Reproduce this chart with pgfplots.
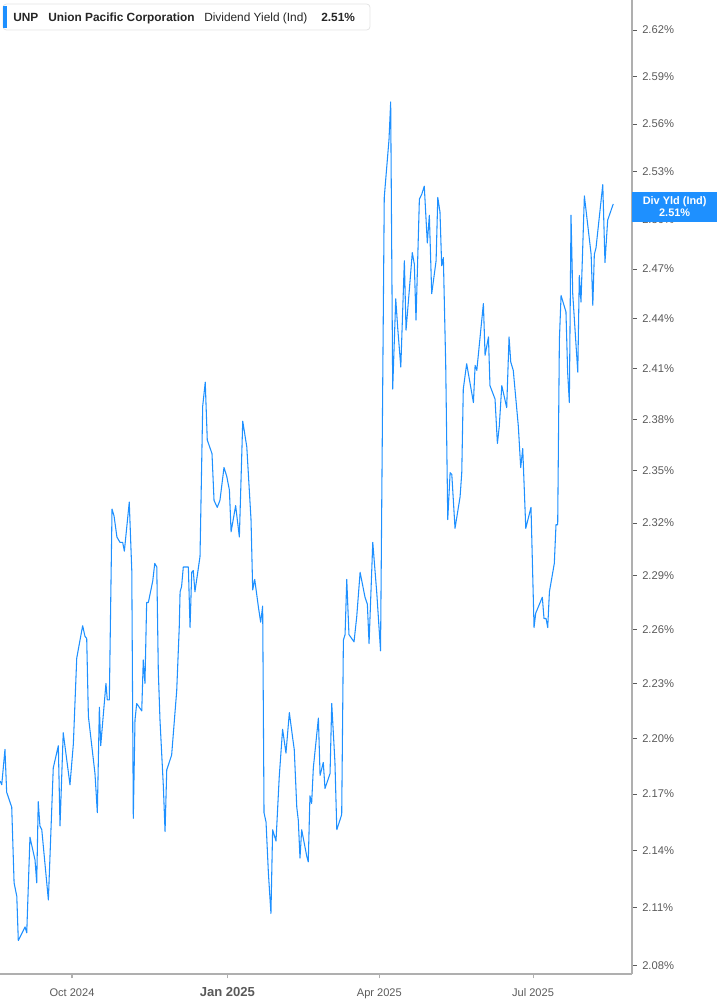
\documentclass[border=0pt]{standalone}
\usepackage{pgfplots}
\pgfplotsset{compat=1.18}
\usepackage{fontspec}
\setmainfont{Liberation Sans}
\usetikzlibrary{calc}

\definecolor{unpblue}{RGB}{30,144,255}
\definecolor{axisgray}{RGB}{175,175,175}
\definecolor{labelgray}{RGB}{90,90,90}

\begin{document}
\begin{tikzpicture}
\begin{axis}[
    name=ax,
    scale only axis,
    width=474pt, height=730.5pt,
    xmin=-42.64, xmax=331.6,
    ymode=log,
    ymin=2.0758, ymax=2.6395,
    axis x line*=bottom,
    axis y line*=right,
    x axis line style={axisgray, line width=1.3pt},
    y axis line style={axisgray, line width=0.9pt},
    tick align=outside,
    major tick length=3.5pt,
    x tick style={axisgray, line width=0.8pt},
    y tick style={labelgray, line width=0.6pt},
    xtick={0,92,182,273},
    xticklabels={Oct 2024,{\fontsize{9.8}{11}\selectfont\bfseries Jan 2025},Apr 2025,Jul 2025},
    xticklabel style={anchor=base, inner sep=0pt, yshift=-13.5pt, text=labelgray,
        font=\fontsize{8.3}{10}\selectfont},
    ytick={2.08,2.11,2.14,2.17,2.20,2.23,2.26,2.29,2.32,2.35,2.38,2.41,2.44,2.47,2.50,2.53,2.56,2.59,2.62},
    yticklabels={2.08\%,2.11\%,2.14\%,2.17\%,2.20\%,2.23\%,2.26\%,2.29\%,2.32\%,2.35\%,2.38\%,2.41\%,2.44\%,2.47\%,2.50\%,2.53\%,2.56\%,2.59\%,2.62\%},
    minor ytick={},
    yticklabel style={anchor=west, inner sep=0pt, xshift=4pt, text=labelgray,
        font=\fontsize{8.4}{10}\selectfont},
    /pgf/number format/assume math mode=true,
]
\addplot[unpblue, line width=0.8pt, line join=round] coordinates {
(-42.6,2.177) (-41.6,2.175) (-39.7,2.194) (-38.7,2.171) (-35.7,2.163)
(-34.3,2.123) (-32.7,2.116) (-31.8,2.093) (-27.8,2.100) (-26.8,2.097)
(-24.9,2.147) (-21.9,2.135) (-20.9,2.123) (-20.0,2.166) (-19.0,2.153)
(-17.9,2.151) (-14.0,2.114) (-11.1,2.184) (-8.1,2.196) (-7.1,2.153)
(-5.2,2.203) (-1.2,2.175) (0.8,2.197) (2.8,2.244) (6.3,2.262)
(7.7,2.256) (8.7,2.255) (9.7,2.212) (13.6,2.181) (15.0,2.160)
(16.2,2.217) (17.0,2.196) (20.1,2.230) (20.9,2.221) (22.1,2.221)
(23.7,2.328) (24.9,2.324) (26.6,2.312) (28.4,2.309) (30.0,2.309)
(31.0,2.304) (33.9,2.332) (35.4,2.293) (36.3,2.157) (37.3,2.210)
(38.3,2.219) (41.3,2.215) (42.2,2.243) (43.2,2.230) (44.2,2.275)
(45.2,2.275) (47.8,2.287) (49.0,2.297) (50.2,2.295) (51.1,2.237)
(52.1,2.210) (54.1,2.174) (55.1,2.150) (56.1,2.183) (59.0,2.191)
(62.0,2.226) (63.5,2.261) (64.0,2.281) (64.9,2.284) (65.9,2.295)
(68.9,2.295) (69.9,2.261) (70.9,2.292) (71.8,2.293) (72.8,2.281)
(75.8,2.301) (77.4,2.388) (78.9,2.402) (80.1,2.368) (82.9,2.360)
(84.1,2.333) (86.0,2.329) (87.6,2.333) (90.0,2.352) (91.6,2.347)
(93.2,2.339) (94.2,2.315) (96.9,2.330) (99.1,2.312) (101.1,2.379)
(103.5,2.364) (106.0,2.322) (107.0,2.282) (108.2,2.288) (110.3,2.273)
(111.7,2.264) (112.9,2.273) (113.7,2.160) (114.9,2.155) (116.3,2.128)
(117.8,2.107) (118.8,2.151) (120.8,2.145) (122.7,2.179) (124.7,2.205)
(126.7,2.192) (128.7,2.214) (130.7,2.200) (131.6,2.194) (133.1,2.163)
(134.0,2.156) (135.0,2.136) (136.0,2.151) (139.0,2.137) (139.9,2.134)
(140.9,2.169) (141.9,2.165) (142.9,2.184) (145.9,2.211) (146.9,2.180)
(148.8,2.187) (149.8,2.173) (152.8,2.181) (153.8,2.219) (155.7,2.187)
(156.8,2.151) (159.7,2.159) (160.7,2.254) (161.7,2.257) (162.7,2.288)
(164.0,2.257) (167.0,2.253) (168.6,2.267) (170.6,2.292) (173.5,2.278)
(174.9,2.274) (175.9,2.252) (178.1,2.309) (180.5,2.280) (182.7,2.248)
(184.9,2.514) (186.3,2.532) (187.7,2.550) (188.7,2.574) (189.9,2.398)
(191.7,2.452) (192.9,2.434) (194.7,2.411) (196.8,2.475) (197.8,2.433)
(199.8,2.458) (201.5,2.480) (202.7,2.473) (203.7,2.439) (205.7,2.513)
(207.1,2.516) (208.6,2.521) (210.4,2.486) (211.6,2.503) (213.0,2.455)
(215.6,2.475) (216.6,2.514) (217.9,2.505) (218.9,2.472) (219.9,2.477)
(221.3,2.412) (222.5,2.322) (223.9,2.349) (224.9,2.348) (226.8,2.317)
(229.8,2.335) (230.8,2.349) (231.7,2.398) (233.7,2.413) (237.7,2.390)
(238.7,2.412) (239.7,2.409) (243.6,2.449) (244.6,2.418) (246.6,2.429)
(247.5,2.400) (250.5,2.392) (251.9,2.366) (253.0,2.376) (254.5,2.400)
(257.4,2.387) (258.8,2.429) (259.8,2.414) (261.3,2.409) (264.3,2.376)
(265.7,2.352) (266.9,2.363) (268.7,2.317) (271.8,2.329) (273.6,2.261)
(274.6,2.269) (278.5,2.278) (279.5,2.266) (280.7,2.266) (281.7,2.261)
(282.7,2.281) (285.6,2.297) (286.6,2.319) (287.6,2.319) (288.6,2.427)
(289.6,2.454) (292.5,2.444) (293.5,2.408) (294.5,2.390) (295.5,2.503)
(296.5,2.455) (299.5,2.408) (300.4,2.466) (301.4,2.450) (303.4,2.515)
(307.4,2.479) (308.4,2.448) (309.3,2.479) (310.3,2.483) (314.3,2.522)
(315.6,2.474) (317.2,2.500) (320.5,2.510)
};
\coordinate (lab) at (axis cs:331.6,2.51);
\end{axis}

% header box, top left
\draw[rounded corners=2.5pt, draw=black!10, fill=white, line width=0.6pt]
    ($(ax.north west)+(2.25pt,-3pt)$) rectangle ($(ax.north west)+(277.5pt,-22.5pt)$);
\fill[unpblue] ($(ax.north west)+(2.6pt,-4.5pt)$) rectangle ($(ax.north west)+(5pt,-21pt)$);
\begin{scope}[every node/.style={anchor=base west, inner sep=0pt, text=black!85,
    font=\fontsize{8.9}{10}\selectfont}]
\node[font=\fontsize{8.9}{10}\selectfont\bfseries] at ($(ax.north west)+(9.75pt,-16.2pt)$) {UNP};
\node[font=\fontsize{8.9}{10}\selectfont\bfseries] at ($(ax.north west)+(36pt,-16.2pt)$) {Union Pacific Corporation};
\node at ($(ax.north west)+(153pt,-16.2pt)$) {Dividend Yield (Ind)};
\node[font=\fontsize{8.9}{10}\selectfont\bfseries] at ($(ax.north west)+(240.75pt,-16.2pt)$) {2.51\%};
\end{scope}

% last value label on the right axis
\fill[unpblue] ($(lab)+(0,9pt)$) rectangle ($(lab)+(63.75pt,-13.5pt)$);
\node[align=center, text=white, inner sep=0pt, font=\fontsize{8.2}{9}\selectfont\bfseries]
    at ($(lab)+(32pt,-2.25pt)$) {Div Yld (Ind)\\2.51\%};

\pgfresetboundingbox
\path ($(ax.south west)+(0,-23.25pt)$) rectangle ($(ax.north east)+(63.75pt,0)$);
\end{tikzpicture}
\end{document}
